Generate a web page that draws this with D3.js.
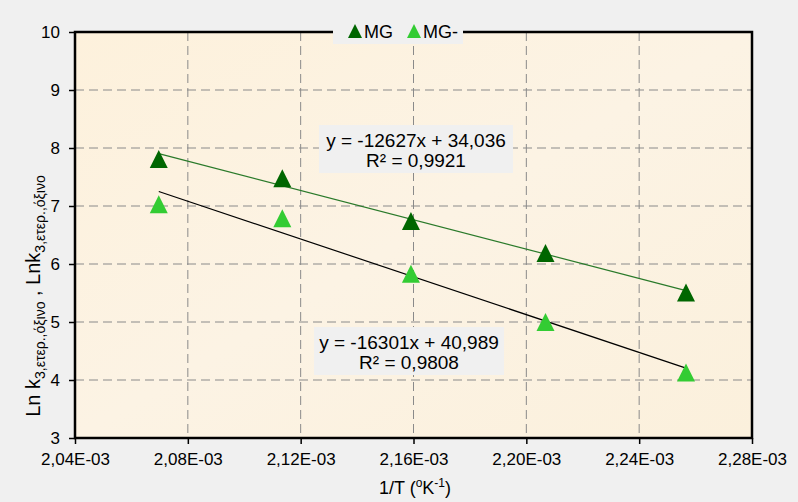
<!DOCTYPE html>
<html>
<head>
<meta charset="utf-8">
<script src="https://cdn.jsdelivr.net/npm/d3@7/dist/d3.min.js"></script>
<style>
  html, body { margin: 0; padding: 0; background: #f0f0f0; }
  svg { display: block; font-family: "Liberation Sans", Arial, sans-serif; }
</style>
</head>
<body>
<svg id="chart" width="798" height="502"></svg>
<script>
// ---- data ----
const invT = [2.0697e-3, 2.1135e-3, 2.1591e-3, 2.2068e-3, 2.2566e-3];
const mgValues = [7.81, 7.48, 6.74, 6.19, 5.51];
const mgMinusValues = [7.03, 6.79, 5.83, 5.00, 4.13];
const seriesNames = ["MG", "MG-"];
const trendSlopes = [-12627, -16301];
const trendIntercepts = [34.036, 40.989];
const trendLabels = [["y = -12627x + 34,036", "R² = 0,9921"], ["y = -16301x + 40,989", "R² = 0,9808"]];
const xTicks = [2.04e-3, 2.08e-3, 2.12e-3, 2.16e-3, 2.20e-3, 2.24e-3, 2.28e-3];
const yTicks = [3, 4, 5, 6, 7, 8, 9, 10];

const colors = ["#006600", "#33cc33"];
const trendColors = ["#2a7a2a", "#000000"];

const svg = d3.select("#chart");
const L = 75, R = 752, T = 32, B = 438;
const x = d3.scaleLinear().domain([2.04e-3, 2.28e-3]).range([L, R]);
const y = d3.scaleLinear().domain([3, 10]).range([B, T]);

// plot area background
const defs = svg.append("defs");
const grad = defs.append("linearGradient").attr("id", "bg").attr("x1", 0).attr("y1", 0).attr("x2", 1).attr("y2", 1);
grad.append("stop").attr("offset", "0%").attr("stop-color", "#fdf1dc");
grad.append("stop").attr("offset", "50%").attr("stop-color", "#fcf3e4");
grad.append("stop").attr("offset", "100%").attr("stop-color", "#fbf0dc");
svg.append("rect").attr("x", L).attr("y", T).attr("width", R - L).attr("height", B - T).attr("fill", "url(#bg)");

// gridlines
const g = svg.append("g");
g.selectAll("line.h").data(yTicks.slice(1, -1)).enter().append("line")
  .attr("x1", L).attr("x2", R).attr("y1", d => y(d)).attr("y2", d => y(d))
  .attr("stroke", "#8a8a8a").attr("stroke-width", 1).attr("stroke-dasharray", "9,5");
g.selectAll("line.v").data(xTicks.slice(1, -1)).enter().append("line")
  .attr("y1", T).attr("y2", B).attr("x1", d => x(d)).attr("x2", d => x(d))
  .attr("stroke", "#8a8a8a").attr("stroke-width", 1).attr("stroke-dasharray", "9,5");

// axes
const fmtX = v => (v * 1000).toFixed(2).replace(".", ",") + "E-03";
const xAxis = d3.axisBottom(x).tickValues(xTicks).tickFormat(fmtX).tickSize(6).tickPadding(5);
const yAxis = d3.axisLeft(y).tickValues(yTicks).tickFormat(d => d).tickSize(6).tickPadding(9);
const gx = svg.append("g").attr("transform", `translate(0,${B})`).call(xAxis);
const gy = svg.append("g").attr("transform", `translate(${L},0)`).call(yAxis);
[gx, gy].forEach(a => {
  a.select(".domain").remove();
  a.selectAll(".tick line").attr("stroke", "#000").attr("stroke-width", 1.5);
  a.selectAll(".tick text").attr("fill", "#000").attr("font-size", 17).attr("font-family", "Liberation Sans, Arial, sans-serif");
});
gx.selectAll(".tick text").attr("dy", "0.95em");

// border
svg.append("rect").attr("x", L).attr("y", T).attr("width", R - L).attr("height", B - T)
  .attr("fill", "none").attr("stroke", "#000").attr("stroke-width", 2.5);

// trendlines
const xmin = d3.min(invT), xmax = d3.max(invT);
trendSlopes.forEach((m, i) => {
  svg.append("line")
    .attr("x1", x(xmin)).attr("y1", y(m * xmin + trendIntercepts[i]))
    .attr("x2", x(xmax)).attr("y2", y(m * xmax + trendIntercepts[i]))
    .attr("stroke", trendColors[i]).attr("stroke-width", 1.2);
});

// markers (triangle with bounding box centred on the point)
const triPath = s => `M0,${-s / 2}L${s / 2},${s / 2}L${-s / 2},${s / 2}Z`;
[mgValues, mgMinusValues].forEach((vals, i) => {
  svg.append("g").selectAll("path").data(vals).enter().append("path")
    .attr("d", triPath(18))
    .attr("transform", (d, j) => `translate(${x(invT[j])},${y(d)})`)
    .attr("fill", colors[i]);
});

// equation labels
const boxes = [
  { cx: 416, top: 125, w: 194, h: 48 },
  { cx: 409, top: 327, w: 190, h: 48 }
];
trendLabels.forEach((lines, i) => {
  const b = boxes[i];
  svg.append("rect").attr("x", b.cx - b.w / 2).attr("y", b.top).attr("width", b.w).attr("height", b.h).attr("fill", "#f0f0f0");
  lines.forEach((t, k) => {
    svg.append("text").attr("x", b.cx).attr("y", b.top + 22 + k * 20)
      .attr("text-anchor", "middle").attr("font-size", 19).attr("fill", "#000").text(t);
  });
});

// legend
const lg = svg.append("g");
lg.append("rect").attr("x", 333).attr("y", 22).attr("width", 130).attr("height", 22).attr("fill", "#f0f0f0");
const legX = [355, 414];
seriesNames.forEach((n, i) => {
  lg.append("path").attr("d", triPath(14))
    .attr("transform", `translate(${legX[i]},31)`).attr("fill", colors[i]);
  lg.append("text").attr("x", legX[i] + 9).attr("y", 38).attr("font-size", 18).attr("fill", "#000").text(n);
});

// x axis title
const xt = svg.append("text").attr("x", 415).attr("y", 494).attr("text-anchor", "middle").attr("font-size", 18).attr("fill", "#000");
xt.append("tspan").text("1/T (");
xt.append("tspan").attr("font-size", 12).attr("dy", -7).text("o");
xt.append("tspan").attr("dy", 7).text("K");
xt.append("tspan").attr("font-size", 12).attr("dy", -7).text("-1");
xt.append("tspan").attr("dy", 7).text(")");

// y axis title
const yt = svg.append("text").attr("transform", "translate(40,296) rotate(-90)")
  .attr("text-anchor", "middle").attr("font-size", 20).attr("fill", "#000");
yt.append("tspan").text("Ln k");
yt.append("tspan").attr("font-size", 14).attr("dy", 5).text("3,ετερ.,όξινο");
yt.append("tspan").attr("dy", -5).text(" , Lnk");
yt.append("tspan").attr("font-size", 14).attr("dy", 5).text("3,ετερ.,όξινο");
</script>
</body>
</html>
